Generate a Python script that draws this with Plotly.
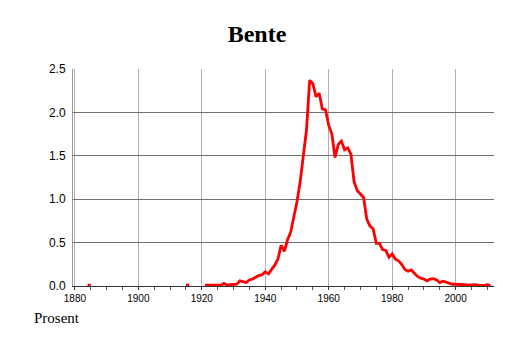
import plotly.graph_objects as go

years = list(range(1880, 2012))

# values (None = no data)
known = {
    1884: 0.01, 1885: 0.01,
    1915: 0.01, 1916: 0.01,
    1921: 0.01, 1922: 0.01, 1923: 0.01, 1924: 0.01, 1925: 0.005, 1926: 0.01,
    1927: 0.03, 1928: 0.01, 1929: 0.015, 1930: 0.02, 1931: 0.02,
    1932: 0.06, 1933: 0.05, 1934: 0.04, 1935: 0.07, 1936: 0.08, 1937: 0.10,
    1938: 0.12, 1939: 0.13, 1940: 0.165, 1941: 0.14, 1942: 0.19, 1943: 0.24,
    1944: 0.31, 1945: 0.47, 1946: 0.40, 1947: 0.53, 1948: 0.62, 1949: 0.78,
    1950: 0.97, 1951: 1.20, 1952: 1.48, 1953: 1.80, 1954: 2.37,
    1955: 2.33, 1956: 2.18, 1957: 2.22, 1958: 2.04, 1959: 2.03, 1960: 1.85,
    1961: 1.75, 1962: 1.48, 1963: 1.63, 1964: 1.67, 1965: 1.57, 1966: 1.59,
    1967: 1.52, 1968: 1.20, 1969: 1.10, 1970: 1.06, 1971: 1.02, 1972: 0.77,
    1973: 0.69, 1974: 0.66, 1975: 0.49, 1976: 0.49, 1977: 0.42, 1978: 0.41,
    1979: 0.33, 1980: 0.37, 1981: 0.31, 1982: 0.29, 1983: 0.25, 1984: 0.19,
    1985: 0.17, 1986: 0.185, 1987: 0.15, 1988: 0.11, 1989: 0.09, 1990: 0.08,
    1991: 0.06, 1992: 0.08, 1993: 0.085, 1994: 0.07, 1995: 0.04, 1996: 0.055,
    1997: 0.045, 1998: 0.035, 1999: 0.02, 2000: 0.02, 2001: 0.02, 2002: 0.015,
    2003: 0.015, 2004: 0.01, 2005: 0.015, 2006: 0.015, 2007: 0.01, 2008: 0.005,
    2009: 0.005, 2010: 0.015, 2011: 0.005,
}
values = [known.get(y) for y in years]

x_ticks = [1880, 1900, 1920, 1940, 1960, 1980, 2000]
y_ticks = [0.0, 0.5, 1.0, 1.5, 2.0, 2.5]
y_tick_labels = ["0.0", "0.5", "1.0", "1.5", "2.0", "2.5"]

fig = go.Figure()
fig.add_trace(go.Scatter(
    x=years, y=values, mode="lines", connectgaps=False,
    line=dict(color="#ff0000", width=2.8),
    hoverinfo="skip", showlegend=False,
))

fig.update_layout(
    width=514, height=343,
    margin=dict(l=73, r=20, t=69, b=57),
    paper_bgcolor="white", plot_bgcolor="white",
    title=dict(text="<b>Bente</b>", x=0.5, xanchor="center", xref="container",
               y=1 - 34 / 343, yanchor="middle",
               font=dict(family="Liberation Serif", size=24, color="black")),
    annotations=[dict(text="Prosent", xref="paper", yref="paper",
                      x=(32 - 73) / 421, y=(286 - 318) / 217,
                      xanchor="left", yanchor="middle", showarrow=False,
                      font=dict(family="Liberation Serif", size=15, color="black"))],
)

fig.update_xaxes(
    range=[1879.4, 2012.1], tickvals=x_ticks, ticktext=[str(v) for v in x_ticks],
    showgrid=True, gridcolor="#b0b0b0", gridwidth=1,
    showline=True, linecolor="#333333", linewidth=1,
    ticks="outside", ticklen=3, tickcolor="#333333",
    minor=dict(dtick=5, tick0=1880, ticks="outside", ticklen=3, tickcolor="#555555", showgrid=False),
    tickfont=dict(family="Liberation Sans", size=10, color="black"),
    zeroline=False, fixedrange=True,
)
fig.update_yaxes(
    range=[0, 2.5], tickvals=y_ticks, ticktext=y_tick_labels,
    showgrid=True, gridcolor="#707070", gridwidth=1,
    showline=True, linecolor="#999999", linewidth=1,
    ticks="", ticklabelstandoff=4,
    tickfont=dict(family="Liberation Sans", size=12, color="black"),
    zeroline=False, fixedrange=True,
)

fig.write_html("out.html")
